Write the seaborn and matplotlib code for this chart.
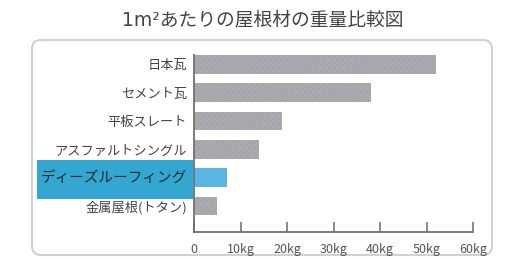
import pandas as pd
import seaborn as sns
import matplotlib.pyplot as plt
from matplotlib.patches import FancyBboxPatch, Rectangle

# Data
materials = ["日本瓦", "セメント瓦", "平板スレート", "アスファルトシングル", "ディーズルーフィング", "金属屋根(トタン)"]
weights = [52, 38, 19, 14, 7, 5]
highlight = "ディーズルーフィング"
x_ticks = [0, 10, 20, 30, 40, 50, 60]
x_tick_labels = ["0", "10kg", "20kg", "30kg", "40kg", "50kg", "60kg"]
title = "1m²あたりの屋根材の重量比較図"

df = pd.DataFrame({"material": materials, "weight": weights})

sns.set_theme(style="white")
plt.rcParams['font.family'] = ['Noto Sans CJK JP', 'DejaVu Sans']
plt.rcParams['hatch.linewidth'] = 0.5

W, H = 509, 259
fig = plt.figure(figsize=(W / 100, H / 100), dpi=100)
fig.patch.set_facecolor('white')

# rounded frame
frame = FancyBboxPatch((0.32, 0.04), 4.60, 2.15, boxstyle="round,pad=0,rounding_size=0.09",
                       transform=fig.dpi_scale_trans, facecolor='none', edgecolor='#d0d0d5',
                       linewidth=1.5, zorder=-2)
fig.patches.append(frame)

# highlight box behind the label
fig.patches.append(Rectangle((37 / W, (H - 199) / H), 156 / W, 39 / H, transform=fig.transFigure,
                             facecolor='#33a6d2', edgecolor='none', zorder=-1))

fig.text(263 / W, 1 - 20 / H, title, ha='center', va='center', fontsize=13.5, color='#444444',
         family=['DejaVu Sans', 'Noto Sans CJK JP'])

ax = fig.add_axes([194 / W, (H - 232) / H, (473 - 194) / W, (232 - 55) / H])
ax.set_facecolor('none')

palette = {m: ('#5ab5e3' if m == highlight else '#a6a5ab') for m in materials}
sns.barplot(data=df, y="material", x="weight", hue="material", palette=palette, legend=False,
            orient='h', width=0.66, ax=ax, saturation=1)
for p in ax.patches:
    p.set_linewidth(0)
    if p.get_facecolor()[0] < 0.5:
        continue
    p.set_edgecolor('#b4b3b8')
    p.set_hatch('//////')

ax.set_xlim(0, 60)
ax.set_ylim(5.92, -0.33)
ax.set_xlabel("")
ax.set_ylabel("")
ax.set_xticks(x_ticks)
ax.set_xticklabels(x_tick_labels)
ax.tick_params(axis='x', direction='in', length=7, width=1.2, color='#777777', pad=8,
               labelsize=9, labelcolor='#555555', bottom=True)
ax.tick_params(axis='y', length=0, pad=5, labelsize=9.5, labelcolor='#444444')
for lbl in ax.get_yticklabels():
    if lbl.get_text() == highlight:
        lbl.set_fontsize(10.5)
        lbl.set_color('#1e2a30')

sns.despine(ax=ax, top=True, right=True)
for side in ["left", "bottom"]:
    ax.spines[side].set_color('#6f6f72')
    ax.spines[side].set_linewidth(1.3)

fig.savefig("out.png", dpi=100)
